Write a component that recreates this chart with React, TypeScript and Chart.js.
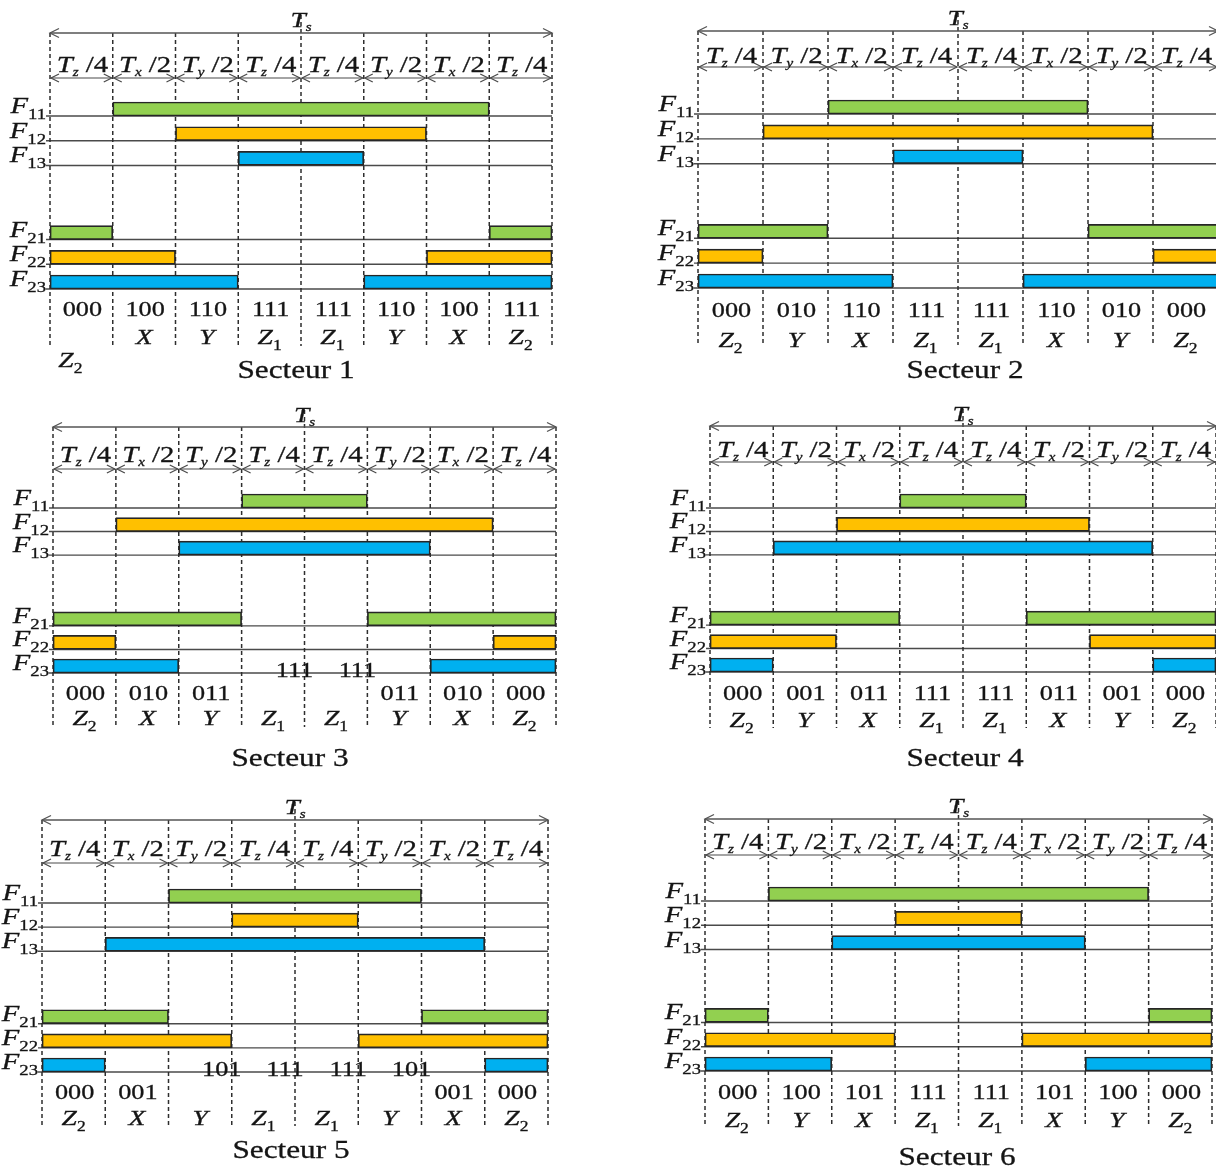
import React, { useEffect, useRef } from "react";
import { Chart, registerables } from "chart.js";

Chart.register(...registerables);

// ---------- data ----------
const rowLabels = ["F11", "F12", "F13", "", "", "F21", "F22", "F23"];
const usedRows = [0, 1, 2, 5, 6, 7];
const rowColors = ["#92D050", "#FFC000", "#00B0F0", "#FFFFFF", "#FFFFFF", "#92D050", "#FFC000", "#00B0F0"];
const segmentDivisors = ["4", "2", "2", "4", "4", "2", "2", "4"];
const subsXY = ["z", "x", "y", "z", "z", "y", "x", "z"];
const subsYX = ["z", "y", "x", "z", "z", "x", "y", "z"];

// on-intervals in segment units (period = 8 segments)
const sector1Upper = [[1, 7], [2, 6], [3, 5]];
const sector1Lower = [[[0, 1], [7, 8]], [[0, 2], [6, 8]], [[0, 3], [5, 8]]];
const sector1States = ["000", "100", "110", "111", "111", "110", "100", "111"];
const sector1Vectors = ["Z2", "X", "Y", "Z1", "Z1", "Y", "X", "Z2"];

const sector2Upper = [[2, 6], [1, 7], [3, 5]];
const sector2Lower = [[[0, 2], [6, 8]], [[0, 1], [7, 8]], [[0, 3], [5, 8]]];
const sector2States = ["000", "010", "110", "111", "111", "110", "010", "000"];
const sector2Vectors = ["Z2", "Y", "X", "Z1", "Z1", "X", "Y", "Z2"];

const sector3Upper = [[3, 5], [1, 7], [2, 6]];
const sector3Lower = [[[0, 3], [5, 8]], [[0, 1], [7, 8]], [[0, 2], [6, 8]]];
const sector3States = ["000", "010", "011", "111", "111", "011", "010", "000"];
const sector3Vectors = ["Z2", "X", "Y", "Z1", "Z1", "Y", "X", "Z2"];

const sector4Upper = [[3, 5], [2, 6], [1, 7]];
const sector4Lower = [[[0, 3], [5, 8]], [[0, 2], [6, 8]], [[0, 1], [7, 8]]];
const sector4States = ["000", "001", "011", "111", "111", "011", "001", "000"];
const sector4Vectors = ["Z2", "Y", "X", "Z1", "Z1", "X", "Y", "Z2"];

const sector5Upper = [[2, 6], [3, 5], [1, 7]];
const sector5Lower = [[[0, 2], [6, 8]], [[0, 3], [5, 8]], [[0, 1], [7, 8]]];
const sector5States = ["000", "001", "101", "111", "111", "101", "001", "000"];
const sector5Vectors = ["Z2", "X", "Y", "Z1", "Z1", "Y", "X", "Z2"];

const sector6Upper = [[1, 7], [3, 5], [2, 6]];
const sector6Lower = [[[0, 1], [7, 8]], [[0, 3], [5, 8]], [[0, 2], [6, 8]]];
const sector6States = ["000", "100", "101", "111", "111", "101", "100", "000"];
const sector6Vectors = ["Z2", "Y", "X", "Z1", "Z1", "X", "Y", "Z2"];

const sectors = [
  { title: "Secteur 1", upper: sector1Upper, lower: sector1Lower, states: sector1States, vectors: sector1Vectors, subs: subsXY },
  { title: "Secteur 2", upper: sector2Upper, lower: sector2Lower, states: sector2States, vectors: sector2Vectors, subs: subsYX },
  { title: "Secteur 3", upper: sector3Upper, lower: sector3Lower, states: sector3States, vectors: sector3Vectors, subs: subsXY },
  { title: "Secteur 4", upper: sector4Upper, lower: sector4Lower, states: sector4States, vectors: sector4Vectors, subs: subsYX },
  { title: "Secteur 5", upper: sector5Upper, lower: sector5Lower, states: sector5States, vectors: sector5Vectors, subs: subsXY },
  { title: "Secteur 6", upper: sector6Upper, lower: sector6Lower, states: sector6States, vectors: sector6Vectors, subs: subsYX },
];

// ---------- layout (page pixels) ----------
type Layout = {
  box: number[]; x0: number; x8: number; b0: number; b7: number;
  ts: number; tsText: number; seg: number; segArrow: number; code: number; vec: number;
  dashEnd: number; title: number; titleX: number; raised?: number[]; raisedY?: number; firstVec?: number[];
};
const layouts: Layout[] = [
  { box: [0, 0, 608, 390], x0: 50, x8: 552, b0: 116, b7: 289, ts: 33, tsText: 27, seg: 72, segArrow: 78, code: 309, vec: 337, dashEnd: 346, title: 370, titleX: 296, firstVec: [-11, 23] },
  { box: [608, 0, 612, 390], x0: 698, x8: 1218, b0: 114, b7: 288, ts: 31, tsText: 25, seg: 63, segArrow: 67, code: 310, vec: 340, dashEnd: 345, title: 370, titleX: 965 },
  { box: [0, 390, 608, 390], x0: 53, x8: 556, b0: 508, b7: 673, ts: 427, tsText: 422, seg: 462, segArrow: 469, code: 693, vec: 718, dashEnd: 727, title: 758, titleX: 290, raised: [3, 4], raisedY: 670 },
  { box: [608, 390, 612, 390], x0: 710, x8: 1216, b0: 508, b7: 672, ts: 426, tsText: 421, seg: 457, segArrow: 462, code: 693, vec: 720, dashEnd: 728, title: 758, titleX: 965 },
  { box: [0, 780, 608, 388], x0: 42, x8: 548, b0: 903, b7: 1072, ts: 820, tsText: 814, seg: 856, segArrow: 863, code: 1092, vec: 1118, dashEnd: 1126, title: 1150, titleX: 291, raised: [2, 3, 4, 5], raisedY: 1069 },
  { box: [608, 780, 612, 388], x0: 705, x8: 1212, b0: 901, b7: 1071, ts: 819, tsText: 813, seg: 849, segArrow: 855, code: 1092, vec: 1120, dashEnd: 1126, title: 1157, titleX: 957 },
];

const BAR = 14;
const SX = 1.25;
const SERIF = '"Liberation Serif", "Times New Roman", serif';
const INK = "#151515";

type Run = { t: string; f: string; dy?: number };

function drawRuns(ctx: CanvasRenderingContext2D, parts: Run[], x: number, y: number, align: "left" | "center" | "right") {
  ctx.save();
  ctx.fillStyle = INK;
  ctx.strokeStyle = INK;
  ctx.lineWidth = 0.3;
  ctx.setLineDash([]);
  ctx.textAlign = "left";
  ctx.textBaseline = "alphabetic";
  const widths = parts.map((p) => {
    ctx.font = p.f;
    return ctx.measureText(p.t).width * SX;
  });
  const total = widths.reduce((a, b) => a + b, 0);
  let cx = align === "center" ? x - total / 2 : align === "right" ? x - total : x;
  parts.forEach((p, i) => {
    ctx.font = p.f;
    ctx.save();
    ctx.translate(cx, y + (p.dy || 0));
    ctx.scale(SX, 1);
    ctx.fillText(p.t, 0, 0);
    ctx.strokeText(p.t, 0, 0);
    ctx.restore();
    cx += widths[i];
  });
  ctx.restore();
}

function line(ctx: CanvasRenderingContext2D, x1: number, y1: number, x2: number, y2: number) {
  ctx.beginPath();
  ctx.moveTo(x1, y1);
  ctx.lineTo(x2, y2);
  ctx.stroke();
}

function arrow(ctx: CanvasRenderingContext2D, x1: number, x2: number, y: number, head: number) {
  line(ctx, x1, y, x2, y);
  ctx.beginPath();
  ctx.moveTo(x1 + head, y - head * 0.5);
  ctx.lineTo(x1, y);
  ctx.lineTo(x1 + head, y + head * 0.5);
  ctx.stroke();
  ctx.beginPath();
  ctx.moveTo(x2 - head, y - head * 0.5);
  ctx.lineTo(x2, y);
  ctx.lineTo(x2 - head, y + head * 0.5);
  ctx.stroke();
}

function vectorRuns(v: string): Run[] {
  const r: Run[] = [{ t: v[0], f: `italic 22px ${SERIF}` }];
  if (v.length > 1) r.push({ t: v.slice(1), f: `14px ${SERIF}`, dy: 6 });
  return r;
}

function makePlugin(idx: number) {
  const sec = sectors[idx];
  const lay = layouts[idx];
  const oy = lay.box[1];
  return {
    id: "diagram" + idx,
    beforeDatasetsDraw(chart: any) {
      const ctx: CanvasRenderingContext2D = chart.ctx;
      const xs = chart.scales.x;
      const ys = chart.scales.y;
      const X = (v: number) => xs.getPixelForValue(v);
      ctx.save();
      // row baselines
      ctx.strokeStyle = "#4a4a4a";
      ctx.lineWidth = 1.4;
      usedRows.forEach((r) => {
        const y = ys.getPixelForValue(r) + BAR / 2;
        line(ctx, X(0) - 4, y, X(8), y);
      });
      // dashed segment boundaries
      ctx.setLineDash([4, 3]);
      ctx.strokeStyle = "#2e2e2e";
      ctx.lineWidth = 1.5;
      for (let i = 0; i <= 8; i++) {
        const top = i === 4 ? lay.tsText - 12 - oy : lay.ts - oy;
        line(ctx, X(i), top, X(i), lay.dashEnd - oy);
      }
      ctx.restore();
    },
    afterDatasetsDraw(chart: any) {
      const ctx: CanvasRenderingContext2D = chart.ctx;
      const xs = chart.scales.x;
      const ys = chart.scales.y;
      const X = (v: number) => xs.getPixelForValue(v);
      ctx.save();
      // period arrow
      ctx.strokeStyle = "#555555";
      ctx.lineWidth = 1.3;
      arrow(ctx, X(0), X(8), lay.ts - oy, 9);
      drawRuns(ctx, [{ t: "T", f: `italic 22px ${SERIF}` }, { t: "s", f: `italic 12px ${SERIF}`, dy: 4 }], X(4), lay.tsText - oy, "center");
      // segment arrows + labels
      ctx.strokeStyle = "#4a4a4a";
      ctx.lineWidth = 1.2;
      for (let i = 0; i < 8; i++) {
        arrow(ctx, X(i) + 1, X(i + 1) - 1, lay.segArrow - oy, 8);
        drawRuns(
          ctx,
          [
            { t: "T", f: `italic 23px ${SERIF}` },
            { t: sec.subs[i], f: `italic 12px ${SERIF}`, dy: 4 },
            { t: " /", f: `23px ${SERIF}` },
            { t: segmentDivisors[i], f: `23px ${SERIF}` },
          ],
          (X(i) + X(i + 1)) / 2 + 1,
          lay.seg - oy,
          "center"
        );
      }
      // row labels
      usedRows.forEach((r) => {
        const yb = ys.getPixelForValue(r) + BAR / 2;
        drawRuns(
          ctx,
          [
            { t: "F", f: `italic 23px ${SERIF}` },
            { t: rowLabels[r].slice(1), f: `15px ${SERIF}`, dy: 6 },
          ],
          X(0) - 4,
          yb - 3,
          "right"
        );
      });
      // switching states and vectors
      for (let i = 0; i < 8; i++) {
        const cx = (X(i) + X(i + 1)) / 2;
        const raised = lay.raised && lay.raised.includes(i);
        if (raised) {
          drawRuns(ctx, [{ t: sec.states[i], f: `21px ${SERIF}` }], X(i + 1) - 10, (lay.raisedY as number) - oy + 7, "center");
        } else {
          drawRuns(ctx, [{ t: sec.states[i], f: `21px ${SERIF}` }], cx + 1, lay.code - oy + 7, "center");
        }
        let vx = cx;
        let vy = lay.vec - oy + 7;
        if (i === 0 && lay.firstVec) {
          vx += lay.firstVec[0];
          vy += lay.firstVec[1];
        }
        drawRuns(ctx, vectorRuns(sec.vectors[i]), vx, vy, "center");
      }
      // title
      drawRuns(ctx, [{ t: sec.title, f: `25px ${SERIF}` }], lay.titleX - lay.box[0], lay.title - oy + 8, "center");
      ctx.restore();
    },
  };
}

function buildConfig(idx: number): any {
  const sec = sectors[idx];
  const lay = layouts[idx];
  const [bl, bt, bw, bh] = lay.box;
  const first: any[] = [sec.upper[0], sec.upper[1], sec.upper[2], null, null, sec.lower[0][0], sec.lower[1][0], sec.lower[2][0]];
  const second: any[] = [null, null, null, null, null, sec.lower[0][1], sec.lower[1][1], sec.lower[2][1]];
  const common = {
    backgroundColor: rowColors,
    borderColor: "#262626",
    borderWidth: 1.7,
    borderSkipped: false,
    barThickness: BAR,
    grouped: false,
    clip: false,
  };
  return {
    type: "bar",
    data: {
      labels: rowLabels,
      datasets: [
        { label: "on", data: first, ...common },
        { label: "on (2)", data: second, ...common },
      ],
    },
    options: {
      indexAxis: "y",
      responsive: false,
      animation: false,
      devicePixelRatio: 1,
      layout: {
        padding: {
          left: lay.x0 - bl,
          right: bl + bw - lay.x8,
          top: lay.b0 - BAR / 2 - bt,
          bottom: bt + bh - (lay.b7 - BAR / 2),
        },
      },
      scales: {
        x: { type: "linear", min: 0, max: 8, display: false },
        y: { type: "category", offset: false, display: false },
      },
      plugins: { legend: { display: false }, tooltip: { enabled: false } },
    },
    plugins: [makePlugin(idx)],
  };
}

function Panel({ idx }: { idx: number }) {
  const ref = useRef<HTMLCanvasElement>(null);
  const [bl, bt, bw, bh] = layouts[idx].box;
  useEffect(() => {
    const chart = new Chart(ref.current as HTMLCanvasElement, buildConfig(idx));
    return () => chart.destroy();
  }, [idx]);
  return (
    <canvas
      ref={ref}
      width={bw}
      height={bh}
      style={{ position: "absolute", left: bl, top: bt, width: bw, height: bh }}
    />
  );
}

export default function App() {
  return (
    <div
      style={{
        position: "fixed",
        left: 0,
        top: 0,
        width: 1216,
        height: 1168,
        overflow: "hidden",
        background: "#ffffff",
      }}
    >
      {sectors.map((_, i) => (
        <Panel key={i} idx={i} />
      ))}
    </div>
  );
}
